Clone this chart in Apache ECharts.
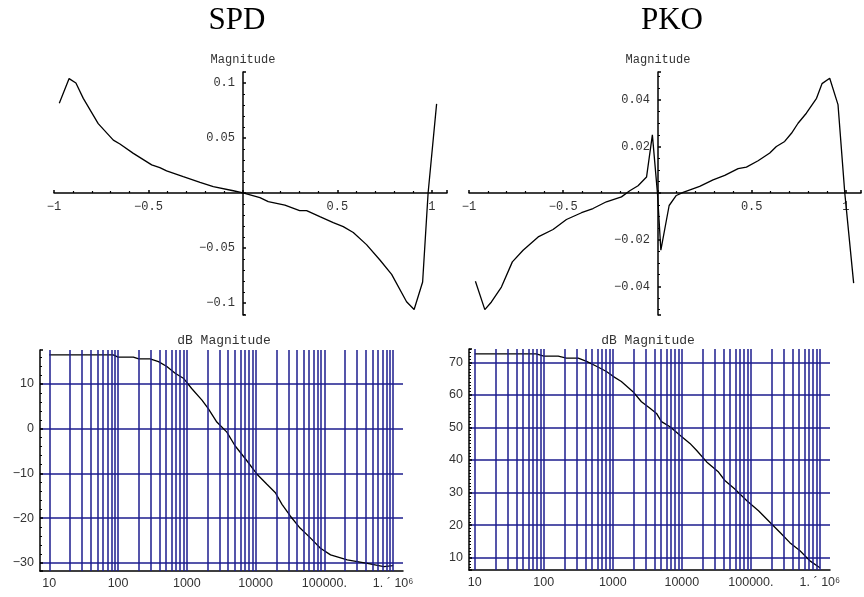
<!DOCTYPE html>
<html>
<head>
<meta charset="utf-8">
<script src="https://cdn.jsdelivr.net/npm/echarts@6/dist/echarts.min.js"></script>
<style>
  html, body { margin: 0; padding: 0; background: #fff; }
  #chart { width: 864px; height: 597px; }
</style>
</head>
<body>
<div id="chart"></div>
<script>
// top panels: magnitude vs x
const spdX = [-0.972, -0.92, -0.884, -0.845, -0.766, -0.686, -0.651, -0.58, -0.483, -0.44, -0.404, -0.316, -0.227, -0.157, -0.051, 0,
  0.09, 0.134, 0.222, 0.30, 0.337, 0.407, 0.478, 0.531, 0.584, 0.654, 0.725, 0.787, 0.866, 0.906, 0.951, 0.98, 1.025]
const spdY = [0.0815, 0.104, 0.100, 0.086, 0.063, 0.048, 0.0445, 0.036, 0.0255, 0.023, 0.020, 0.0148, 0.0097, 0.0057, 0.002, 0,
  -0.0043, -0.0079, -0.011, -0.016, -0.016, -0.0215, -0.027, -0.0306, -0.036, -0.047, -0.061, -0.074, -0.099, -0.106, -0.081, 0, 0.081]

const pkoX = [-0.966, -0.916, -0.881, -0.828, -0.77, -0.713, -0.633, -0.554, -0.483, -0.403, -0.342, -0.271, -0.191, -0.147, -0.103, -0.058, -0.027, 0,
  0.018, 0.062, 0.1, 0.136, 0.224, 0.295, 0.357, 0.428, 0.472, 0.534, 0.596, 0.631, 0.675, 0.711, 0.746, 0.79, 0.844, 0.873, 0.914, 0.958, 0.994, 1.041]
const pkoY = [-0.0378, -0.050, -0.0467, -0.0403, -0.0295, -0.0245, -0.0188, -0.0156, -0.0113, -0.0084, -0.0066, -0.0037, -0.0016, 0.001, 0.0032, 0.0069, 0.025, 0,
  -0.0245, -0.0053, -0.001, 0.0003, 0.0029, 0.0057, 0.0076, 0.0105, 0.0112, 0.0139, 0.0172, 0.02, 0.0222, 0.0257, 0.03, 0.0343, 0.0407, 0.047, 0.0493, 0.038, 0, -0.0386]

// bottom panels: dB magnitude vs frequency
const spdFreq = [10, 85, 100, 167, 200, 292, 387, 512, 676, 890, 1175, 1660, 2050, 2730, 3820, 5020, 7420, 10400, 14600, 19400,
  24200, 31900, 44300, 62500, 87700, 123000, 215000, 421000, 730000, 1000000]
const spdDb = [16.5, 16.5, 16.0, 16.0, 15.6, 15.6, 15.0, 13.9, 12.4, 11.3, 9.0, 6.4, 4.5, 1.5, -0.75, -3.8, -7.1, -10.1, -12.4, -14.3,
  -16.9, -19.5, -22.2, -24.4, -26.7, -28.2, -29.3, -30.1, -30.8, -30.6]

const pkoFreq = [10, 78, 100, 162, 213, 316, 417, 580, 810, 1010, 1330, 1960, 2600, 3460, 4300, 5070, 6740, 9400, 13100, 16300,
  22900, 34000, 42000, 58500, 87500, 129000, 190000, 265000, 367000, 515000, 717000, 1000000]
const pkoDb = [72.6, 72.6, 71.9, 71.9, 71.3, 71.3, 70.3, 68.8, 67.2, 65.7, 64.1, 61.0, 57.9, 55.9, 54.3, 51.8, 50.2, 47.6, 45.1, 43.0,
  39.4, 36.3, 33.7, 31.1, 27.5, 24.4, 20.8, 17.7, 14.6, 12.1, 9.0, 6.9]

// log axis tick labels and vertical grid positions
const freqTickVals = [10, 100, 1000, 10000, 100000, 1000000]
const freqTickText = ['10', '100', '1000', '10000', '100000.', '1. \u00b4 10\u2076']
const freqGridVals = [10, 20, 30, 40, 50, 60, 70, 80, 90,
  100, 200, 300, 400, 500, 600, 700, 800, 900,
  1000, 2000, 3000, 4000, 5000, 6000, 7000, 8000, 9000,
  10000, 20000, 30000, 40000, 50000, 60000, 70000, 80000, 90000,
  100000, 200000, 300000, 400000, 500000, 600000, 700000, 800000, 900000,
  1000000]

const zip = (a, b) => a.map((v, i) => [v, b[i]])
const blue = '#1c1c8e'
const mono = 'Liberation Mono'
const sans = 'Liberation Sans'

function stepLabel(step, hideZero) {
  return function (v) {
    const k = v / step
    if (Math.abs(k - Math.round(k)) > 1e-6) return ''
    if (hideZero && Math.abs(v) < 1e-9) return ''
    return String(+v.toFixed(4)).replace('-', '\u2212')
  }
}

function freqLabel(v) {
  for (let i = 0; i < freqTickVals.length; i++) {
    if (Math.abs(v / freqTickVals[i] - 1) < 1e-6) return freqTickText[i]
  }
  return ''
}

// top panels: axes cross at the origin, moved in with offset
function topX(gi, min, max, off) {
  return {
    type: 'value', gridIndex: gi, min: min, max: max, splitNumber: 5, offset: off,
    axisLine: { onZero: false, lineStyle: { color: '#000', width: 1.5 } },
    axisTick: { inside: true, length: 3, lineStyle: { color: '#000', width: 1.5 } },
    minorTick: { show: true, splitNumber: 5, length: 2, lineStyle: { color: '#000', width: 1.2 } },
    axisLabel: { formatter: stepLabel(0.5, true), fontFamily: mono, fontSize: 12, color: '#333', margin: 8 },
    splitLine: { show: false }
  }
}

function topY(gi, min, max, step, minorN, off) {
  return {
    type: 'value', gridIndex: gi, min: min, max: max, splitNumber: 5, offset: off,
    name: 'Magnitude', nameLocation: 'end', nameGap: 6,
    nameTextStyle: { fontFamily: mono, fontSize: 12, color: '#333' },
    axisLine: { onZero: false, lineStyle: { color: '#000', width: 1.5 } },
    axisTick: { inside: true, length: 3, lineStyle: { color: '#000', width: 1.5 } },
    minorTick: { show: true, splitNumber: minorN, length: 2, lineStyle: { color: '#000', width: 1.2 } },
    axisLabel: { formatter: stepLabel(step, true), fontFamily: mono, fontSize: 12, color: '#333', margin: 8 },
    splitLine: { show: false }
  }
}

function botX(gi, min, max) {
  return {
    type: 'log', logBase: 10, gridIndex: gi, min: min, max: max,
    axisLine: { onZero: false, lineStyle: { color: '#000', width: 1.5 } },
    axisTick: { show: false },
    axisLabel: { formatter: freqLabel, fontFamily: sans, fontSize: 12.5, color: '#333', margin: 6 },
    splitLine: { show: false }
  }
}

function botY(gi, min, max, minorN) {
  return {
    type: 'value', gridIndex: gi, min: min, max: max, splitNumber: 5,
    axisLine: { onZero: false, lineStyle: { color: '#000', width: 1.5 } },
    axisTick: { inside: true, length: 3, lineStyle: { color: '#000', width: 1.5 } },
    minorTick: { show: true, splitNumber: minorN, length: 2, lineStyle: { color: '#000', width: 1.2 } },
    axisLabel: { formatter: stepLabel(10, false), fontFamily: sans, fontSize: 12.5, color: '#333', margin: 6 },
    splitLine: { show: true, showMinLine: false, showMaxLine: false, lineStyle: { color: blue, width: 1.5 } }
  }
}

function curve(xi, data) {
  return {
    type: 'line', xAxisIndex: xi, yAxisIndex: xi, data: data, z: 3,
    showSymbol: false, symbol: 'none', lineStyle: { color: '#000', width: 1.3 }
  }
}

function vGrid(xi) {
  return {
    type: 'line', xAxisIndex: xi, yAxisIndex: xi, data: [], z: 1,
    markLine: {
      silent: true, symbol: ['none', 'none'], label: { show: false },
      lineStyle: { color: blue, width: 1.5, type: 'solid' },
      data: freqGridVals.map(v => ({ xAxis: v }))
    }
  }
}

const myChart = echarts.init(document.getElementById('chart'))
myChart.setOption({
  animation: false,
  title: [
    { text: 'SPD', left: 232, top: 0, textAlign: 'center',
      textStyle: { fontFamily: 'Liberation Serif', fontSize: 31, fontWeight: 'normal', color: '#000' } },
    { text: 'PKO', left: 667, top: 0, textAlign: 'center',
      textStyle: { fontFamily: 'Liberation Serif', fontSize: 31, fontWeight: 'normal', color: '#000' } },
    { text: 'dB Magnitude', left: 219, top: 329, textAlign: 'center',
      textStyle: { fontFamily: mono, fontSize: 13, fontWeight: 'normal', color: '#333' } },
    { text: 'dB Magnitude', left: 643, top: 329, textAlign: 'center',
      textStyle: { fontFamily: mono, fontSize: 13, fontWeight: 'normal', color: '#333' } }
  ],
  grid: [
    { left: 54, top: 72, width: 393, height: 243 },
    { left: 469, top: 72, width: 392, height: 243 },
    { left: 40, top: 350, width: 363, height: 221 },
    { left: 469, top: 349, width: 361, height: 221 }
  ],
  xAxis: [
    topX(0, -1, 1.08, -122),
    topX(1, -1, 1.08, -122),
    botX(2, 7.33, 1390000),
    botX(3, 8.27, 1400000)
  ],
  yAxis: [
    topY(0, -0.111, 0.11, 0.05, 5, -189),
    topY(1, -0.0523, 0.052, 0.02, 4, -189),
    botY(2, -31.8, 17.6, 5),
    botY(3, 6.2, 74.1, 10)
  ],
  series: [
    curve(0, zip(spdX, spdY)),
    curve(1, zip(pkoX, pkoY)),
    vGrid(2),
    curve(2, zip(spdFreq, spdDb)),
    vGrid(3),
    curve(3, zip(pkoFreq, pkoDb))
  ]
})
</script>
</body>
</html>
